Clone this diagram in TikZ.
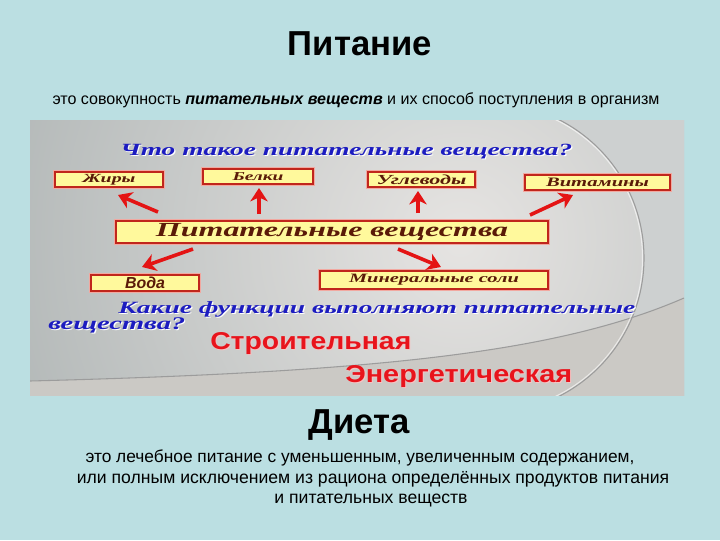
\documentclass[tikz,border=0pt]{standalone}
\usepackage{fontspec}
\setmainfont{Liberation Sans}
\newfontfamily\wideserif[FakeStretch=1.6]{Liberation Serif}
\usetikzlibrary{arrows.meta}
\newdimen\pxu \pxu=0.75pt
\definecolor{pagebg}{HTML}{BBDFE2}
\definecolor{boxfill}{HTML}{FFF99C}
\definecolor{boxline}{HTML}{C0261C}
\definecolor{boxglow}{HTML}{F2A8A0}
\definecolor{boxtext}{HTML}{5A1A08}
\definecolor{qblue}{HTML}{1C1CC0}
\definecolor{fred}{HTML}{E8141C}
\definecolor{fglow}{HTML}{F6C4C4}
\definecolor{arrred}{HTML}{E41414}
\definecolor{imgin}{HTML}{E6E4E2}
\definecolor{imgout}{HTML}{8A9596}
\definecolor{imgright}{HTML}{CDD0D0}
\definecolor{imgband}{HTML}{CBC9C5}
\definecolor{arcline}{HTML}{9C9C9C}
\tikzset{
  labbox/.style 2 args={draw=boxline, fill=boxfill, line width=1.6pt,
    preaction={draw=boxglow, line width=3.4pt},
    minimum width=#1*0.75pt, minimum height=#2*0.75pt, inner sep=0pt,
    text=boxtext},
  arr/.style={draw=arrred, line width=2.7pt,
    -{Stealth[length=10pt,width=13pt,inset=3pt]}},
  qtext/.style={anchor=base west, inner sep=0pt, text=qblue},
  qshadow/.style={anchor=base west, inner sep=0pt, text=white},
  redtext/.style={anchor=base west, inner sep=0pt, text=fred},
  redglow/.style={anchor=base west, inner sep=0pt, text=fglow},
  plaintext/.style={anchor=base, inner sep=0pt},
}
\newcommand{\wlab}[2]{\resizebox{#1\pxu}{!}{\wideserif\bfseries\itshape #2}}
\begin{document}
\begin{tikzpicture}[x=0.75pt, y=-0.75pt]
\useasboundingbox (0,0) rectangle (720,540);
\fill[pagebg] (0,0) rectangle (720,540);

% titles
\node[plaintext, font=\bfseries\fontsize{26}{30}\selectfont] (title) at (360,55) {Питание};
\node[plaintext, font=\fontsize{12.05}{14}\selectfont] (sub) at (356,104)
  {это совокупность \textbf{\textit{питательных веществ}} и их способ поступления в организм};

% embedded picture background
\begin{scope}
\clip (30,120) rectangle (684,395);
\shade[inner color=imgin, outer color=imgout] (460,240) circle (860);
\begin{scope}
\clip (500,100) rectangle (700,400);
\fill[imgright, even odd rule] (30,100) rectangle (700,400) (489,258) circle (155);
\end{scope}
\fill[imgband] (30,381) .. controls (380,372) and (560,352) .. (684,298) -- (684,400) -- (30,400) -- cycle;
\draw[arcline, line width=0.8pt] (30,381) .. controls (380,372) and (560,352) .. (684,298);
\begin{scope}
\clip (520,100) rectangle (700,400);
\draw[arcline, line width=0.8pt] (489,258) circle (155);
\draw[white, opacity=0.6, line width=0.8pt] (489,258) circle (153.5);
\end{scope}
\end{scope}

% question 1
\node[qshadow] (q1s) at (121.2,156.2) {\wlab{452}{Что такое питательные вещества?}};
\node[qtext] (q1) at (120,155) {\wlab{452}{Что такое питательные вещества?}};

% boxes
\node[labbox={108}{15}] (zhiry) at (109,179.5) {\wlab{53}{Жиры}};
\node[labbox={110}{15}] (belki) at (258,176.5) {\wlab{51}{Белки}};
\node[labbox={107}{15}] (ugl) at (421.5,179.5) {\wlab{90}{Углеводы}};
\node[labbox={145}{15}] (vit) at (597.5,182.5) {\wlab{103}{Витамины}};
\node[labbox={432}{22}] (main) at (332,232) {\wlab{352}{Питательные вещества}};
\node[labbox={108}{16}] (voda) at (145,283) {\resizebox{40\pxu}{!}{\bfseries\itshape Вода}};
\node[labbox={228}{18}] (min) at (434,280) {\wlab{170}{Минеральные соли}};

% arrows
\coordinate (a1t) at (158,212); \coordinate (a1h) at (118,195);
\coordinate (a2t) at (259,214); \coordinate (a2h) at (259,188);
\coordinate (a3t) at (418,213); \coordinate (a3h) at (418,191);
\coordinate (a4t) at (530,215); \coordinate (a4h) at (573,195);
\coordinate (a5t) at (193,249); \coordinate (a5h) at (142,267);
\coordinate (a6t) at (398,249); \coordinate (a6h) at (441,267);
\draw[arr] (a1t) -- (a1h);
\draw[arr] (a2t) -- (a2h);
\draw[arr] (a3t) -- (a3h);
\draw[arr] (a4t) -- (a4h);
\draw[arr] (a5t) -- (a5h);
\draw[arr] (a6t) -- (a6h);

% question 2
\node[qshadow] (q2as) at (119.2,314.2) {\wlab{517}{Какие функции выполняют питательные}};
\node[qtext] (q2a) at (118,313) {\wlab{517}{Какие функции выполняют питательные}};
\node[qshadow] (q2bs) at (49.2,330.2) {\wlab{137}{вещества?}};
\node[qtext] (q2b) at (48,329) {\wlab{137}{вещества?}};

% functions
\node[redglow] (f1g) at (211,350) {\resizebox{201\pxu}{17\pxu}{\bfseries Строительная}};
\node[redtext] (f1) at (210,349) {\resizebox{201\pxu}{17\pxu}{\bfseries Строительная}};
\node[redglow] (f2g) at (346,383) {\resizebox{227\pxu}{17\pxu}{\bfseries Энергетическая}};
\node[redtext] (f2) at (345,382) {\resizebox{227\pxu}{17\pxu}{\bfseries Энергетическая}};

% diet
\node[plaintext, font=\bfseries\fontsize{26}{30}\selectfont] (diet) at (359,433) {Диета};
\node[plaintext, font=\fontsize{13.0}{15}\selectfont] (d1) at (360,462)
  {это лечебное питание с уменьшенным, увеличенным содержанием,};
\node[plaintext, font=\fontsize{13.2}{15}\selectfont] (d2) at (373,483)
  {или полным исключением из рациона определённых продуктов питания};
\node[plaintext, font=\fontsize{13.2}{15}\selectfont] (d3) at (371,503)
  {и питательных веществ};
\end{tikzpicture}
\end{document}
